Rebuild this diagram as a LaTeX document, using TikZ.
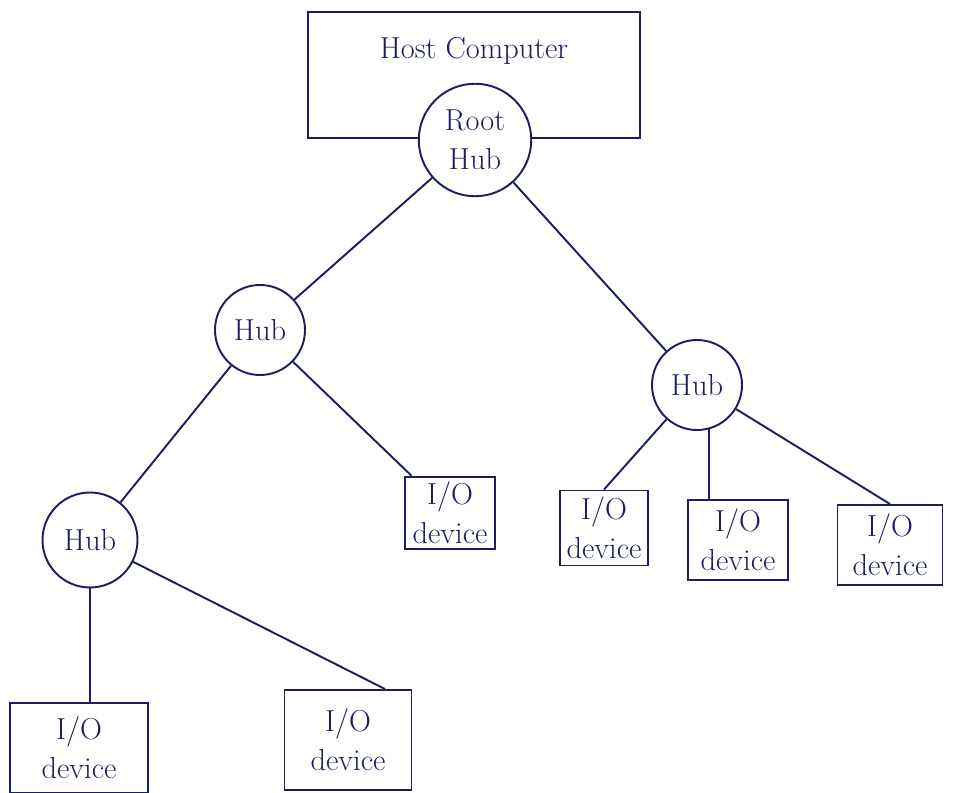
\documentclass[tikz,border=0pt]{standalone}
\usepackage{xcolor}
\usepackage{tikz}
\usetikzlibrary{arrows.meta, positioning}
\definecolor{ink}{HTML}{1B1F5E}

\begin{document}
\begin{tikzpicture}[
    host/.style={rectangle, draw=ink, line width=1.1pt, minimum width=6.64cm, minimum height=2.52cm},
    hub/.style={circle, draw=ink, fill=white, line width=1.1pt, align=center, minimum size=1.8cm, inner sep=0pt, font=\LARGE, text=ink},
    device/.style={rectangle, draw=ink, fill=white, line width=1.1pt, align=center, minimum width=1.8cm, minimum height=1.45cm, font=\LARGE, text=ink, inner sep=1pt},
    link/.style={line width=1.1pt, color=ink}
]
\useasboundingbox (0,0) rectangle (19.06,-15.86);

\node[host, label={[anchor=north, yshift=-0.4cm, font=\LARGE, text=ink]north:Host Computer}] (host) at (9.48,-1.5) {};
\node[hub, minimum size=2.25cm] (root) at (9.5,-2.8) {Root\\Hub};

\node[hub] (hubA) at (5.2,-6.6) {Hub};
\node[hub] (hubB) at (13.94,-7.7) {Hub};
\node[hub, minimum size=1.9cm] (hubC) at (1.8,-10.8) {Hub};

\node[device] (dev1) at (9.0,-10.26) {I/O\\device};
\node[device, minimum width=1.76cm, minimum height=1.5cm] (dev2) at (12.08,-10.56) {I/O\\device};
\node[device, minimum width=2.0cm, minimum height=1.6cm] (dev3) at (14.76,-10.8) {I/O\\device};
\node[device, minimum width=2.1cm, minimum height=1.6cm] (dev4) at (17.8,-10.9) {I/O\\device};
\node[device, minimum width=2.76cm, minimum height=1.8cm] (dev5) at (1.58,-14.96) {I/O\\device};
\node[device, minimum width=2.54cm, minimum height=2.0cm] (dev6) at (6.96,-14.8) {I/O\\device};

\draw[link] (root) -- (hubA);
\draw[link] (root) -- (hubB);

\draw[link] (hubA) -- (hubC);
\draw[link] (hubA) -- ([xshift=0.15cm]dev1.north west);

\draw[link] (hubB) -- (dev2.north);
\draw[link] (hubB.-75) -- (hubB.-75 |- dev3.north);
\draw[link] (hubB) -- (dev4.north);

\draw[link] (hubC.south) -- (hubC.south |- dev5.north);
\draw[link] (hubC) -- ([xshift=-0.55cm]dev6.north east);
\end{tikzpicture}
\end{document}
